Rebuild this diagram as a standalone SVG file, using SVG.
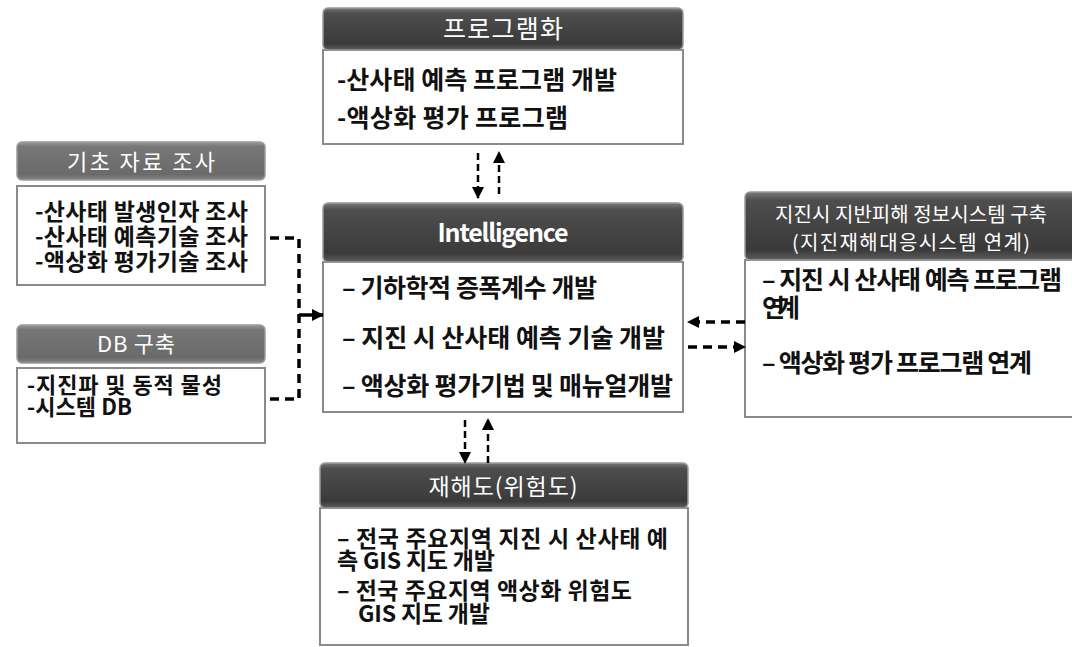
<svg xmlns="http://www.w3.org/2000/svg" width="1072" height="647" viewBox="0 0 1072 647">
<style>
.body{fill:#fff;stroke:#8a8a8a;stroke-width:2}
.hd{stroke:#9a9a9a;stroke-width:1.5}
.ht{fill:#fff;font-family:"Noto Sans CJK KR","Noto Sans",sans-serif;font-weight:400;text-anchor:middle}
.bt{fill:#111;font-family:"Noto Sans CJK KR","Noto Sans",sans-serif;font-weight:700}
.c1{fill:none;stroke:#000;stroke-width:2.5;stroke-dasharray:7 4}
.c2{fill:none;stroke:#000;stroke-width:3.5;stroke-dasharray:9 6}
.c3{fill:none;stroke:#000;stroke-width:3.5}
</style>
<defs>
<linearGradient id="gd" x1="0" y1="0" x2="0" y2="1">
<stop offset="0" stop-color="#7a7a7a"/><stop offset="0.12" stop-color="#4e4e4e"/><stop offset="0.85" stop-color="#3a3a3a"/><stop offset="1" stop-color="#5e5e5e"/>
</linearGradient>
<linearGradient id="gl" x1="0" y1="0" x2="0" y2="1">
<stop offset="0" stop-color="#9a9a9a"/><stop offset="0.12" stop-color="#777"/><stop offset="0.85" stop-color="#6a6a6a"/><stop offset="1" stop-color="#858585"/>
</linearGradient>
<marker id="ah" markerUnits="userSpaceOnUse" markerWidth="12" markerHeight="12" viewBox="0 0 12 12" refX="11" refY="6" orient="auto">
<path d="M0,0 L12,6 L0,12 Z" fill="#000"/>
</marker>
</defs>

<g id="node-program">
<rect class="body" x="323" y="50" width="360" height="94"/>
<rect class="hd" x="323" y="8" width="360" height="42" rx="5" fill="url(#gd)"/>
<text class="ht" x="503" y="38" font-size="25" textLength="120">프로그램화</text>
<text class="bt" x="337" y="89" font-size="25" textLength="280">-산사태 예측 프로그램 개발</text>
<text class="bt" x="337" y="127" font-size="25" textLength="231">-액상화 평가 프로그램</text>
</g>

<g id="node-basic">
<rect class="hd" x="17" y="142" width="248" height="38" rx="5" fill="url(#gl)"/>
<text class="ht" x="141" y="170" font-size="22" textLength="148">기초 자료 조사</text>
<rect class="body" x="17" y="186" width="248" height="99"/>
<text class="bt" x="35" y="220" font-size="23" textLength="213">-산사태 발생인자 조사</text>
<text class="bt" x="35" y="245" font-size="23" textLength="213">-산사태 예측기술 조사</text>
<text class="bt" x="35" y="270" font-size="23" textLength="213">-액상화 평가기술 조사</text>
</g>

<g id="node-db">
<rect class="hd" x="17" y="325" width="248" height="38" rx="5" fill="url(#gl)"/>
<text class="ht" x="136" y="352" font-size="22" textLength="78">DB 구축</text>
<rect class="body" x="17" y="368" width="248" height="75"/>
<text class="bt" x="27" y="393" font-size="22" textLength="195">-지진파 및 동적 물성</text>
<text class="bt" x="27" y="415" font-size="22" textLength="105">-시스템 DB</text>
</g>

<g id="node-intelligence">
<rect class="body" x="323" y="262" width="360" height="150"/>
<rect class="hd" x="323" y="203" width="360" height="59" rx="5" fill="url(#gd)"/>
<text class="ht" x="503" y="242" font-size="25" style="font-weight:700" textLength="131">Intelligence</text>
<text class="bt" x="342" y="297" font-size="25" textLength="255">– 기하학적 증폭계수 개발</text>
<text class="bt" x="342" y="347" font-size="25" textLength="323">– 지진 시 산사태 예측 기술 개발</text>
<text class="bt" x="342" y="395" font-size="25" textLength="331">– 액상화 평가기법 및 매뉴얼개발</text>
</g>

<g id="node-system">
<rect class="body" x="745" y="260" width="335" height="157"/>
<rect class="hd" x="745" y="192" width="335" height="68" rx="5" fill="url(#gd)"/>
<text class="ht" x="911" y="222" font-size="20" textLength="272">지진시 지반피해 정보시스템  구축</text>
<text class="ht" x="911" y="250" font-size="20" textLength="238">(지진재해대응시스템 연계)</text>
<text class="bt" x="762" y="289" font-size="25" textLength="300">– 지진 시 산사태 예측 프로그램</text>
<text class="bt" x="762" y="317" font-size="25" textLength="38">연계</text>
<text class="bt" x="762" y="372" font-size="25" textLength="270">– 액상화 평가 프로그램 연계</text>
</g>

<g id="node-hazard">
<rect class="body" x="320" y="508" width="368" height="137"/>
<rect class="hd" x="320" y="463" width="368" height="45" rx="5" fill="url(#gd)"/>
<text class="ht" x="503" y="495" font-size="23" textLength="149">재해도(위험도)</text>
<text class="bt" x="337" y="547" font-size="23" textLength="331">– 전국 주요지역 지진 시 산사태 예</text>
<text class="bt" x="337" y="569" font-size="23" textLength="158">측 GIS 지도 개발</text>
<text class="bt" x="337" y="599" font-size="23" textLength="295">– 전국 주요지역 액상화 위험도</text>
<text class="bt" x="358" y="622" font-size="23" textLength="132">GIS 지도 개발</text>
</g>

<g id="connectors">
<path class="c1" d="M478,153 L478,198" marker-end="url(#ah)"/>
<path class="c1" d="M499,194 L499,152" marker-end="url(#ah)"/>
<path class="c2" d="M270,238 L299,238 L299,399 L270,399"/>
<path class="c3" d="M299,315 L323,315" marker-end="url(#ah)"/>
<path class="c2" d="M745,322 L688,322" marker-end="url(#ah)"/>
<path class="c2" d="M688,347 L745,347" marker-end="url(#ah)"/>
<path class="c1" d="M465,420 L465,463" marker-end="url(#ah)"/>
<path class="c1" d="M488,463 L488,419" marker-end="url(#ah)"/>
</g>
</svg>
